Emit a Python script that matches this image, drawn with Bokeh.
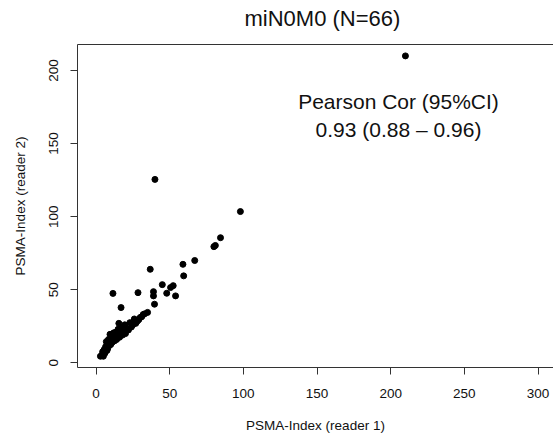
from bokeh.plotting import figure
from bokeh.models import Range1d, FixedTicker, LinearAxis, Label, Title
from bokeh.embed import file_html
from bokeh.resources import INLINE

# ---- data ----
reader1 = [210, 40, 98, 84.5, 80, 81, 67, 59, 59.5, 36.8, 11.5, 28.5, 39, 39, 39.7,
           45, 48, 50.6, 52.4, 54, 17, 15.5,
           3, 4, 5, 4.5, 5.5, 6, 6.5, 7, 7.5, 8, 8.5, 9, 9.5, 10, 10.5, 11, 12, 12.5,
           13, 13.5, 14, 14.5, 15, 16, 16.5, 17, 18, 19, 19.5, 20, 21, 22, 23, 24,
           25, 26, 27, 28, 29, 30, 31, 32, 33, 35]
reader2 = [210, 125.5, 103.5, 85.6, 79.5, 80.3, 70, 67.4, 59.5, 64, 47.5, 48, 48.7, 45.8, 40.1,
           53.5, 47.6, 51.5, 52.8, 45.8, 37.8, 27,
           4.5, 5.2, 4.5, 7.5, 9, 6.5, 11, 14.5, 8.5, 10, 16, 12, 19.5, 12.5, 16.5, 14, 20.5, 15,
           18, 21, 16, 19, 23, 17.5, 20.5, 24, 19, 21, 26, 20, 23, 22.5, 27.5, 24.5,
           26, 30, 27, 28.5, 29.5, 31, 31.5, 33, 33.5, 34.5]
x_ticks = [0, 50, 100, 150, 200, 250, 300]
y_ticks = [0, 50, 100, 150, 200]
title_text = "miN0M0 (N=66)"
cor_label = "Pearson Cor (95%CI)"
cor_value = "0.93 (0.88 \u2013 0.96)"
x_label = "PSMA-Index (reader 1)"
y_label = "PSMA-Index (reader 2)"

FONT = "Liberation Sans"
LINE = "#333333"
TXT = "#111111"

p = figure(width=553, height=437, output_backend="svg", toolbar_location=None,
           x_range=Range1d(-12.56, 310.5), y_range=Range1d(-3.2, 217.8),
           min_border_left=77, min_border_right=0, min_border_top=43, min_border_bottom=70,
           x_axis_label=x_label, y_axis_label=y_label)
p.outline_line_color = None
p.grid.visible = False
p.background_fill_color = "white"
p.border_fill_color = "white"

p.title = Title(text=title_text, align="left", offset=167, standoff=6,
                text_font=FONT, text_font_size="22px", text_font_style="normal",
                text_color=TXT)

p.scatter(reader1, reader2, size=6, color="black")

for ax in [p.xaxis[0], p.yaxis[0]]:
    ax.axis_line_color = LINE
    ax.major_tick_line_color = LINE
    ax.minor_tick_line_color = None
    ax.major_tick_out = 7
    ax.major_tick_in = 0
    ax.major_label_text_font = FONT
    ax.major_label_text_font_size = "13.5px"
    ax.major_label_text_color = TXT
    ax.axis_label_text_font = FONT
    ax.axis_label_text_font_size = "13.5px"
    ax.axis_label_text_font_style = "normal"
    ax.axis_label_text_color = TXT

p.xaxis[0].ticker = FixedTicker(ticks=x_ticks)
p.yaxis[0].ticker = FixedTicker(ticks=y_ticks)
p.yaxis[0].major_label_orientation = "vertical"
p.xaxis[0].major_label_standoff = 14
p.xaxis[0].axis_label_standoff = 17
p.yaxis[0].major_label_standoff = 12
p.yaxis[0].axis_label_standoff = 19

# top edge of the box; its (blank) axis label only reserves space below the title
top_axis = LinearAxis(ticker=FixedTicker(ticks=[]), axis_line_color=LINE,
                      major_tick_out=0, major_tick_in=0, minor_tick_line_color=None,
                      major_label_standoff=0, major_label_text_font_size="0px",
                      axis_label=" ", axis_label_standoff=7,
                      axis_label_text_font_size="1px")
p.add_layout(top_axis, "above")

p.add_layout(Label(x=205.3, y=179, text=cor_label, text_align="center",
                   text_baseline="alphabetic", text_font=FONT,
                   text_font_size="21px", text_color=TXT))
p.add_layout(Label(x=205.3, y=159.7, text=cor_value, text_align="center",
                   text_baseline="alphabetic", text_font=FONT,
                   text_font_size="21px", text_color=TXT))

open("out.html", "w").write(file_html(p, INLINE))
